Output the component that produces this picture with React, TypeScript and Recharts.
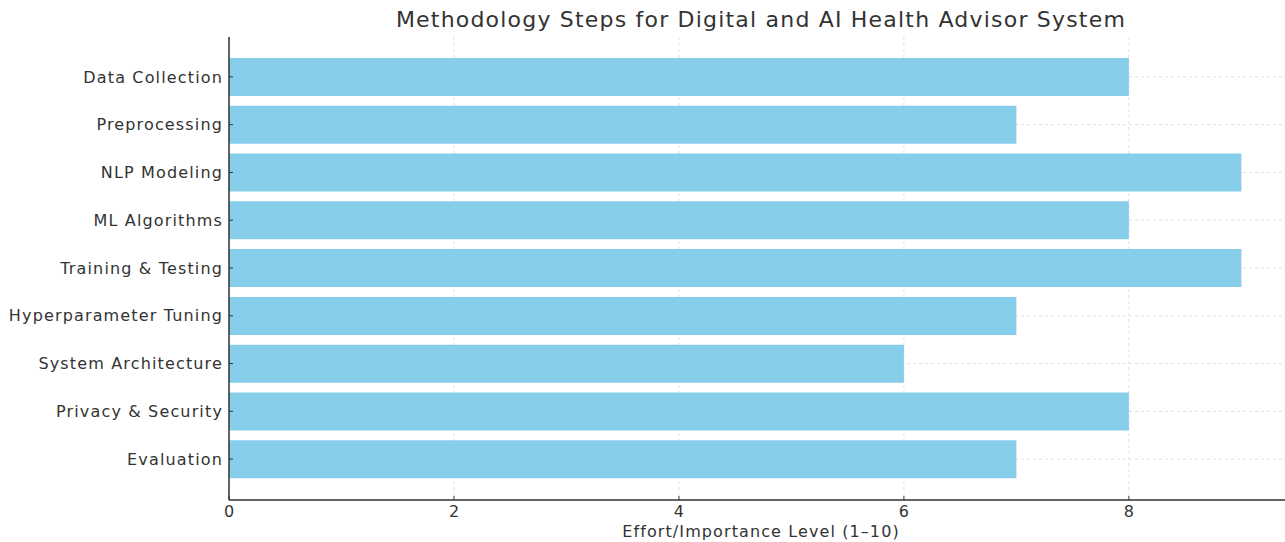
import { BarChart, Bar, XAxis, YAxis, CartesianGrid } from "recharts";

const steps = [
  "Data Collection",
  "Preprocessing",
  "NLP Modeling",
  "ML Algorithms",
  "Training & Testing",
  "Hyperparameter Tuning",
  "System Architecture",
  "Privacy & Security",
  "Evaluation",
];
const levels = [8, 7, 9, 8, 9, 7, 6, 8, 7];
const xTicks = [0, 2, 4, 6, 8];

const FONT = "'DejaVu Sans', sans-serif";

// skip the grid row that sits on the plot's top edge
const rowLine = (p: any) => {
  if (typeof p.y === "number" && Math.abs(p.y1 - p.y) < 1) return <g key={p.key} />;
  return (
    <line
      key={p.key}
      x1={p.x1}
      y1={p.y1}
      x2={p.x2}
      y2={p.y2}
      stroke="#ccc"
      strokeOpacity={0.6}
      strokeDasharray="3 3"
    />
  );
};

export default function App() {
  const data = steps.map((s, i) => ({ step: s, level: levels[i] }));

  return (
    <div style={{ position: "absolute", left: 0, top: 0, width: 1285, height: 542, overflow: "hidden", background: "#fff", fontFamily: FONT }}>
      <div
        style={{
          position: "absolute",
          left: 0,
          top: 6,
          width: 1522,
          textAlign: "center",
          fontSize: 22,
          letterSpacing: 1.2,
          color: "#333",
          lineHeight: "28px",
        }}
      >
        Methodology Steps for Digital and AI Health Advisor System
      </div>
      <div
        style={{
          position: "absolute",
          left: 0,
          top: 522,
          width: 1522,
          textAlign: "center",
          fontSize: 16,
          letterSpacing: 1.1,
          color: "#333",
          lineHeight: "20px",
        }}
      >
        Effort/Importance Level (1–10)
      </div>
      <BarChart
        width={1300}
        height={542}
        data={data}
        layout="vertical"
        margin={{ top: 37, right: 8, bottom: 0, left: 0 }}
        style={{ position: "absolute", left: 0, top: 0 }}
      >
        <XAxis
          type="number"
          dataKey="level"
          domain={[0, 9.45]}
          ticks={xTicks}
          height={42}
          tickSize={-4}
          tickMargin={10}
          tick={{ fill: "#333", fontSize: 16, fontFamily: FONT }}
          axisLine={{ stroke: "#333", strokeWidth: 1.5 }}
          tickLine={{ stroke: "#333" }}
        />
        <YAxis
          type="category"
          dataKey="step"
          width={229}
          padding={{ top: 16, bottom: 17 }}
          tickSize={-4}
          tickMargin={10}
          tick={{ fill: "#333", fontSize: 16, fontFamily: FONT, letterSpacing: 1.15 }}
          axisLine={{ stroke: "#333", strokeWidth: 1.5 }}
          tickLine={{ stroke: "#333" }}
          interval={0}
        />
        <Bar dataKey="level" fill="#87CEEB" barSize={38} isAnimationActive={false} />
        <CartesianGrid
          stroke="#ccc"
          strokeDasharray="3 3"
          strokeOpacity={0.6}
          syncWithTicks
          horizontal={rowLine}
        />
      </BarChart>
    </div>
  );
}
